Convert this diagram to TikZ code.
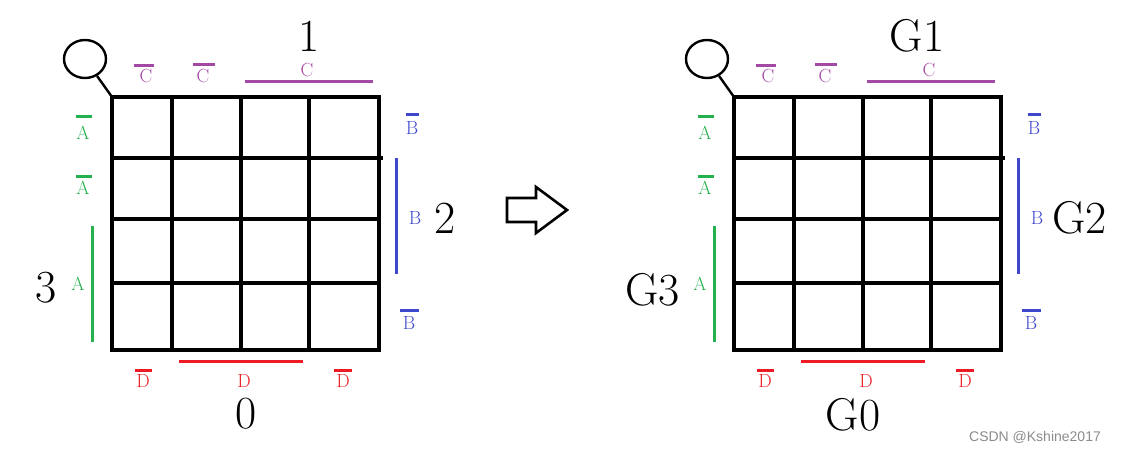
\documentclass[tikz,border=0pt]{standalone}
\usepackage{fontspec}
\newfontfamily\wmfont{Liberation Sans}
\usetikzlibrary{shapes.geometric}
\definecolor{kpurple}{RGB}{163,73,164}
\definecolor{kgreen}{RGB}{34,177,76}
\definecolor{kblue}{RGB}{63,72,204}
\definecolor{kred}{RGB}{237,28,36}
\tikzset{
  gridline/.style={line width=3.2pt, black},
  var/.style={font=\fontsize{19}{19}\selectfont, inner sep=0pt},
  big/.style={font=\fontsize{46}{46}\selectfont, inner sep=0pt},
  colbar/.style={line width=3pt},
  loopnode/.style={draw, ellipse, line width=2.4pt, minimum width=42pt, minimum height=38pt, inner sep=0pt},
  looplink/.style={line width=2.4pt},
}
\newcommand\kmapunit{%
  \coordinate (tl) at (112,97);
  \coordinate (br) at (379,350);
  \draw[gridline] (tl) rectangle (br);
  \foreach \xx in {172,241,309} {\draw[gridline] (\xx,97) -- (\xx,350);}
  \draw[gridline] (112,158) -- (383,158);
  \draw[gridline] (112,219) -- (379,219);
  \draw[gridline] (112,283) -- (379,283);
  \node[loopnode] (loop) at (85,59) {};
  \draw[looplink] (loop) -- (tl);
  % C
  \node[var, text=kpurple] (c1) at (146,76) {C};
  \draw[colbar, kpurple] (134,65) -- (154,65);
  \node[var, text=kpurple] (c2) at (203,76) {C};
  \draw[colbar, kpurple] (193,64) -- (215,64);
  \node[var, text=kpurple] (c3) at (307,70) {C};
  \draw[colbar, kpurple] (245,81) -- (373,81);
  % A
  \node[var, text=kgreen] (a1) at (83,133) {A};
  \draw[colbar, kgreen] (76,116) -- (92,116);
  \node[var, text=kgreen] (a2) at (83,188) {A};
  \draw[colbar, kgreen] (76,176) -- (92,176);
  \node[var, text=kgreen] (a3) at (78,284) {A};
  \draw[colbar, kgreen] (92,226) -- (92,342);
  % B
  \node[var, text=kblue] (b1) at (412,128) {B};
  \draw[colbar, kblue] (406,114) -- (419,114);
  \node[var, text=kblue] (b2) at (415,218) {B};
  \draw[colbar, kblue] (396,158) -- (396,274);
  \node[var, text=kblue] (b3) at (409,323) {B};
  \draw[colbar, kblue] (400,310) -- (419,310);
  % D
  \node[var, text=kred] (d1) at (143,381) {D};
  \draw[colbar, kred] (135,370) -- (152,370);
  \node[var, text=kred] (d2) at (244,381) {D};
  \draw[colbar, kred] (179,361) -- (303,361);
  \node[var, text=kred] (d3) at (343,381) {D};
  \draw[colbar, kred] (334,370) -- (352,370);
}
\begin{document}
\begin{tikzpicture}[x=1pt, y=-1pt]
  \useasboundingbox (0,0) rectangle (1127,453);
  \fill[white] (0,0) rectangle (1127,453);
  \begin{scope}[name prefix=l-]
    \kmapunit
    \node[big] (top) at (309,36) {1};
    \node[big, anchor=west] (right) at (434,218) {2};
    \node[big, anchor=east] (left) at (57,288) {3};
    \node[big] (bottom) at (246,414) {0};
  \end{scope}
  \begin{scope}[shift={(622,0)}, name prefix=r-]
    \kmapunit
    \node[big] (top) at (295,36) {G1};
    \node[big, anchor=west] (right) at (430,218) {G2};
    \node[big, anchor=east] (left) at (58,290) {G3};
    \node[big] (bottom) at (231,415) {G0};
  \end{scope}
  \draw[line width=2.6pt, line join=miter] (507,198) -- (536,198) -- (536,187) -- (567,210) -- (536,233) -- (536,222) -- (507,222) -- cycle;
  \node[font=\wmfont\fontsize{14}{14}\selectfont, text=black!45, inner sep=0pt] (wm) at (1035,437) {CSDN @Kshine2017};
\end{tikzpicture}
\end{document}
